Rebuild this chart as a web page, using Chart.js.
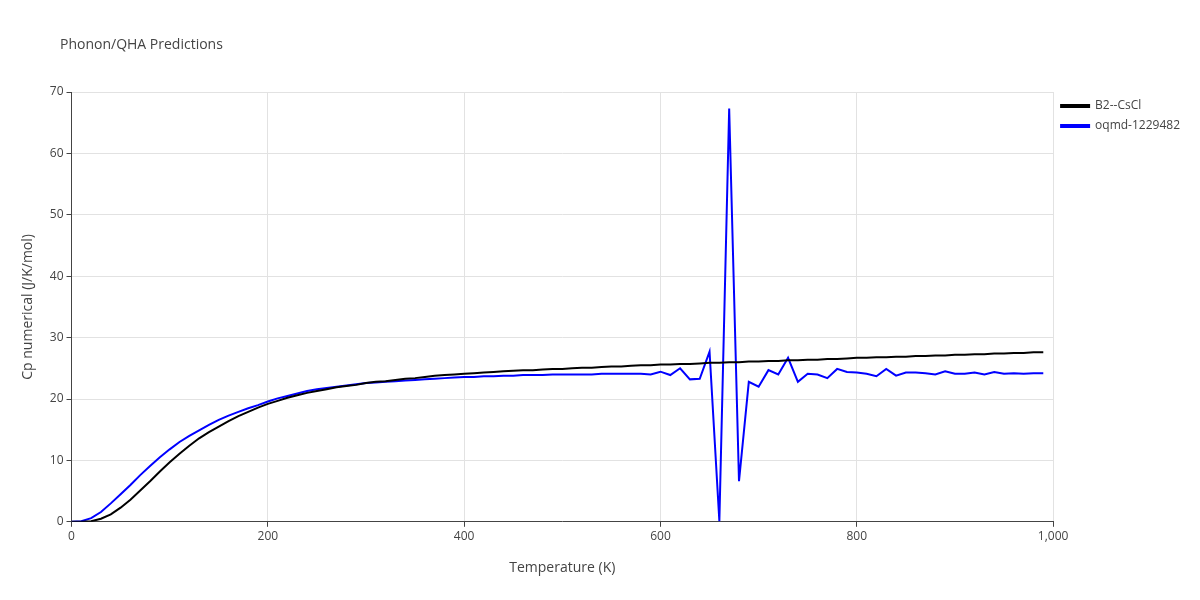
<!DOCTYPE html>
<html>
<head>
<meta charset="utf-8">
<script src="https://cdn.jsdelivr.net/npm/chart.js@4"></script>
<style>
body { margin: 0; background: #fff; }
</style>
</head>
<body>
<canvas id="chart" width="1200" height="600"></canvas>
<script>
// temperatures 0..990 K in 10 K steps
const temps = Array.from({length: 100}, (_, i) => i * 10);

const b2CsCl = [
  0, 0, 0.1, 0.5, 1.2, 2.3, 3.6, 5.1, 6.6, 8.2,
  9.7, 11.1, 12.4, 13.6, 14.6, 15.5, 16.4, 17.2, 17.9, 18.6,
  19.2, 19.7, 20.2, 20.6, 21.0, 21.3, 21.6, 21.9, 22.1, 22.3,
  22.6, 22.8, 22.9, 23.1, 23.3, 23.4, 23.6, 23.8, 23.9, 24.0,
  24.1, 24.2, 24.3, 24.4, 24.5, 24.6, 24.7, 24.7, 24.8, 24.9,
  24.9, 25.0, 25.1, 25.1, 25.2, 25.3, 25.3, 25.4, 25.5, 25.5,
  25.6, 25.6, 25.7, 25.7, 25.8, 25.9, 25.9, 26.0, 26.0, 26.1,
  26.1, 26.2, 26.2, 26.3, 26.3, 26.4, 26.4, 26.5, 26.5, 26.6,
  26.7, 26.7, 26.8, 26.8, 26.9, 26.9, 27.0, 27.0, 27.1, 27.1,
  27.2, 27.2, 27.3, 27.3, 27.4, 27.4, 27.5, 27.5, 27.6, 27.6
];

const oqmd1229482 = [
  0, 0.1, 0.6, 1.6, 3.0, 4.5, 6.0, 7.6, 9.1, 10.5,
  11.8, 13.0, 14.0, 14.9, 15.8, 16.6, 17.3, 17.9, 18.5, 19.0,
  19.6, 20.1, 20.5, 20.9, 21.3, 21.6, 21.8, 22.0, 22.2, 22.4,
  22.6, 22.7, 22.8, 22.9, 23.0, 23.1, 23.2, 23.3, 23.4, 23.5,
  23.6, 23.6, 23.7, 23.7, 23.8, 23.8, 23.9, 23.9, 23.9, 24.0,
  24.0, 24.0, 24.0, 24.0, 24.1, 24.1, 24.1, 24.1, 24.1, 24.0,
  24.45, 23.9, 25.0, 23.2, 23.3, 27.7, 0.1, 67.3, 6.6, 22.8,
  22.0, 24.7, 24.0, 26.7, 22.8, 24.1, 24.0, 23.4, 24.9, 24.4,
  24.3, 24.1, 23.7, 24.9, 23.8, 24.3, 24.3, 24.2, 24.0, 24.5,
  24.1, 24.1, 24.3, 24.0, 24.4, 24.1, 24.2, 24.1, 24.2, 24.2
];

const xTicks = [0, 200, 400, 600, 800, 1000];
const yTicks = [0, 10, 20, 30, 40, 50, 60, 70];

const font = "'Open Sans', 'Liberation Sans', sans-serif";
const txt = '#444';

// title drawn at a fixed spot, top-left like the original
const titlePlugin = {
  id: 'topTitle',
  afterDraw(chart) {
    const c = chart.ctx;
    c.save();
    c.font = '14px ' + font;
    c.fillStyle = txt;
    c.textBaseline = 'middle';
    c.fillText('Phonon/QHA Predictions', 60, 45);
    c.restore();
  }
};

new Chart(document.getElementById('chart'), {
  type: 'line',
  data: {
    datasets: [
      { label: 'B2--CsCl', data: temps.map((t, i) => ({x: t, y: b2CsCl[i]})),
        borderColor: '#000', backgroundColor: '#000', borderWidth: 2, pointRadius: 0, tension: 0 },
      { label: 'oqmd-1229482', data: temps.map((t, i) => ({x: t, y: oqmd1229482[i]})),
        borderColor: '#0000ff', backgroundColor: '#0000ff', borderWidth: 2, pointRadius: 0, tension: 0 }
    ]
  },
  plugins: [titlePlugin],
  options: {
    responsive: false,
    animation: false,
    layout: { padding: { left: 16, right: 10, top: 92, bottom: 20 } },
    plugins: {
      legend: { position: 'right', align: 'start',
        labels: { color: txt, font: { family: font, size: 12 }, boxWidth: 28, boxHeight: 2, padding: 8 } },
      tooltip: { enabled: false }
    },
    scales: {
      x: { type: 'linear', min: 0, max: 1000,
        afterBuildTicks: ax => { ax.ticks = xTicks.map(v => ({value: v})); },
        grid: { color: '#e2e2e2', drawTicks: true, tickLength: 5, tickColor: '#444' },
        border: { color: '#444' },
        ticks: { color: txt, font: { family: font, size: 12 }, maxRotation: 0 },
        title: { display: true, text: 'Temperature (K)', color: txt, font: { family: font, size: 14 }, padding: { top: 12 } } },
      y: { min: 0, max: 70,
        afterBuildTicks: ax => { ax.ticks = yTicks.map(v => ({value: v})); },
        grid: { color: '#e2e2e2', tickLength: 5, tickColor: '#444' },
        border: { color: '#444' },
        ticks: { color: txt, font: { family: font, size: 12 } },
        title: { display: true, text: 'Cp numerical (J/K/mol)', color: txt, font: { family: font, size: 14 }, padding: { bottom: 10 } } }
    }
  }
});
</script>
</body>
</html>
